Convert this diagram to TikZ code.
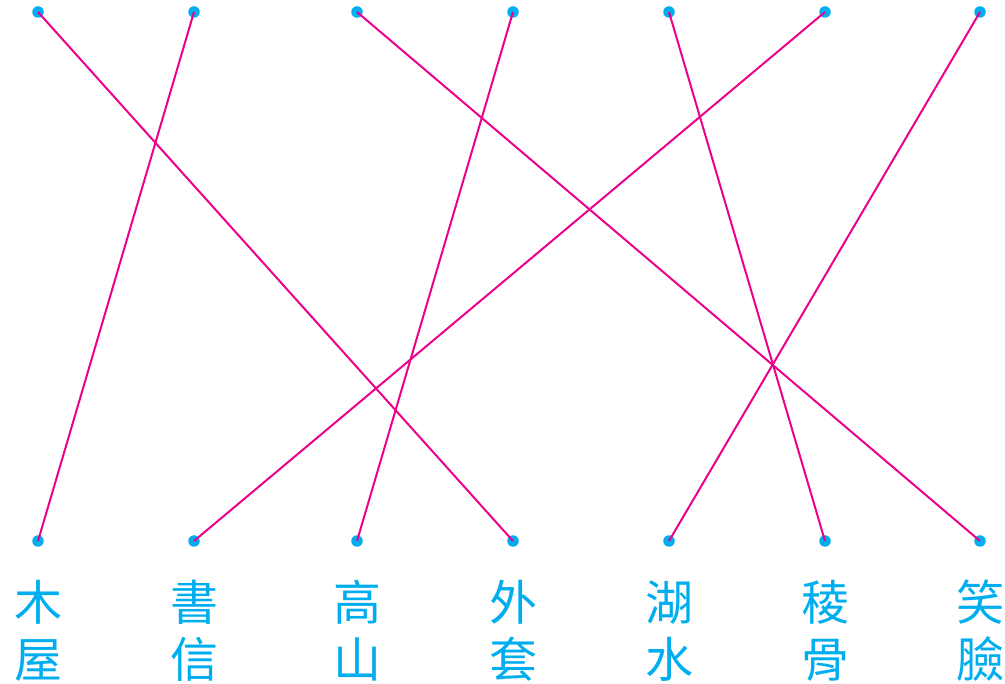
\documentclass[tikz,border=0pt]{standalone}
\usepackage{fontspec}
\newfontfamily\cjk{Noto Sans CJK TC}
\usetikzlibrary{positioning}
\definecolor{dotblue}{HTML}{00AEEF}
\definecolor{linkpink}{HTML}{EC008C}

\begin{document}
\begin{tikzpicture}[x=1pt,y=-1pt]
  \tikzstyle{every dot}=[circle,fill=dotblue,inner sep=0pt,minimum size=11.5pt]
  \tikzstyle{link}=[linkpink,line width=2pt]
  \tikzstyle{word}=[dotblue,font=\cjk\fontsize{48}{57}\selectfont,align=center,inner sep=0pt]
  \useasboundingbox (0,0) rectangle (1005,684);

  % dots on both rows
  \foreach \i/\x in {1/38,2/194,3/357,4/513,5/669,6/825,7/980} {
    \node[every dot] (t\i) at (\x,12) {};
    \node[every dot] (b\i) at (\x,541) {};
  }

  % words under the lower dots
  \node[word] (w1) at (38,631) {木\\屋};
  \node[word] (w2) at (194,631) {書\\信};
  \node[word] (w3) at (357,631) {高\\山};
  \node[word] (w4) at (513,631) {外\\套};
  \node[word] (w5) at (669,631) {湖\\水};
  \node[word] (w6) at (825,631) {稜\\骨};
  \node[word] (w7) at (980,631) {笑\\臉};

  % matching lines
  \foreach \a/\b in {1/4,2/1,3/7,4/3,5/6,6/2,7/5}
    \draw[link] (t\a.center) -- (b\b.center);
\end{tikzpicture}
\end{document}
